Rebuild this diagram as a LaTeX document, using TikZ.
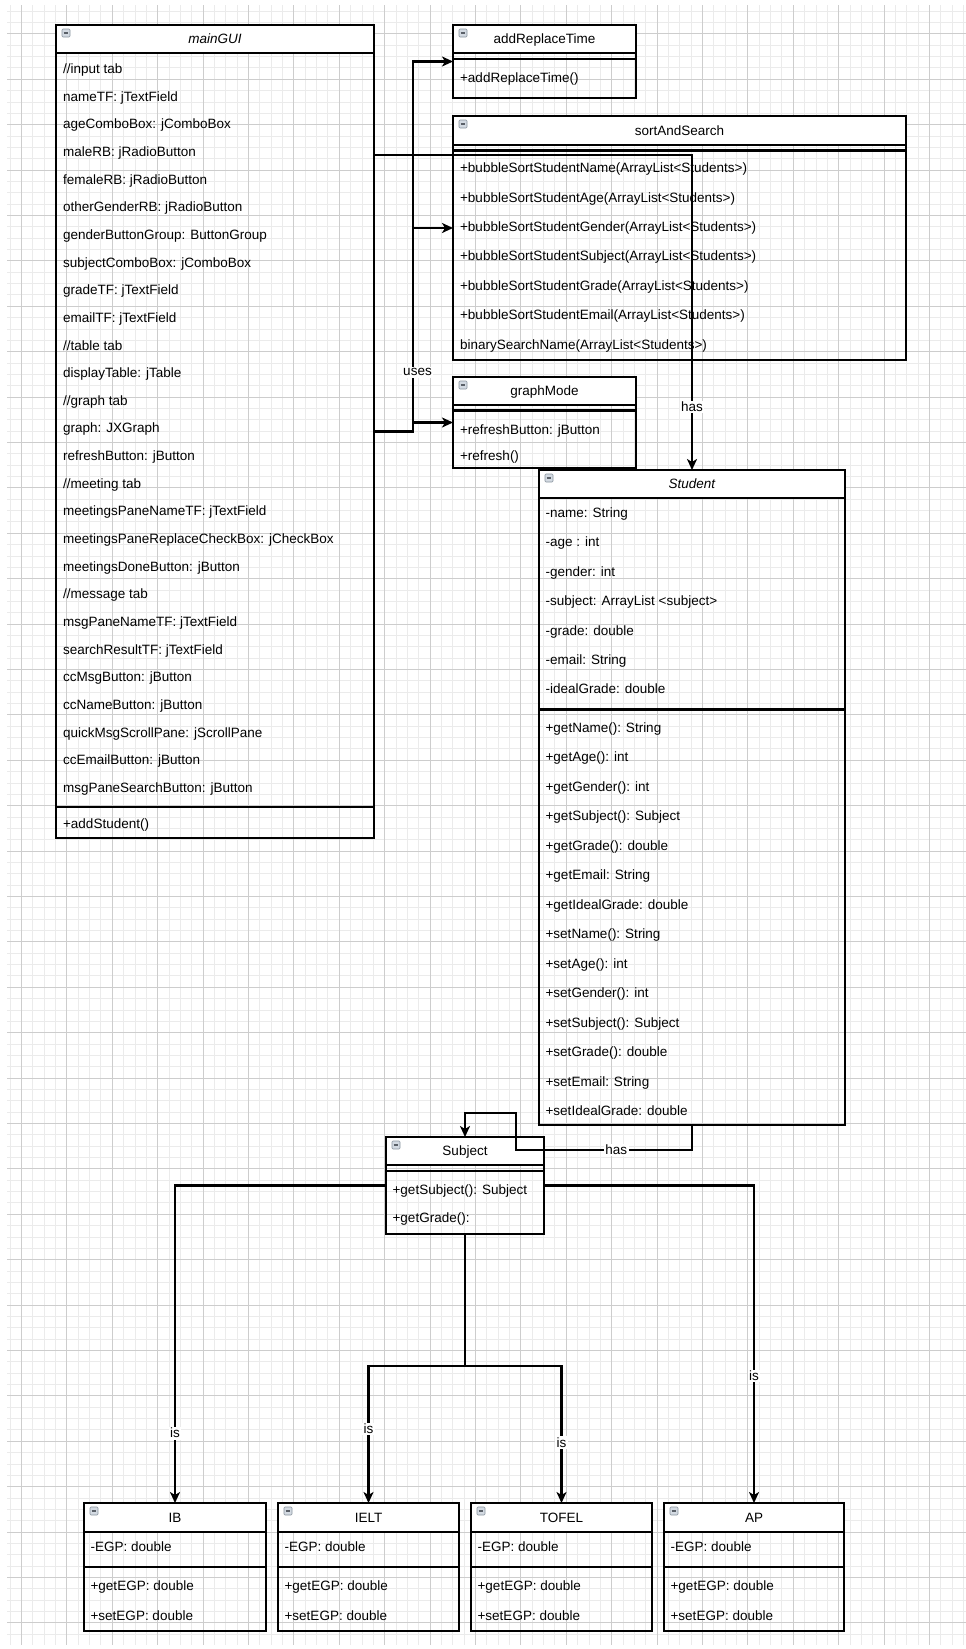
\documentclass[tikz,border=0pt]{standalone}
\usepackage{fontspec}
\setmainfont{Liberation Sans}
\usetikzlibrary{arrows.meta, positioning}
\definecolor{iconfill}{HTML}{D3DAE2}
\definecolor{iconline}{HTML}{8A949E}
\definecolor{iconmark}{HTML}{5A6068}
\definecolor{gridfaint}{HTML}{EBEBEB}
\definecolor{gridstrong}{HTML}{CDCDCD}
\tikzset{
    umldiagram/.style={>={Stealth[length=11pt, width=10pt, inset=3pt]}, line width=2.2pt, font=\fontsize{13.5}{16}\selectfont},
    classbox/.style={draw, anchor=north west, inner sep=0pt, outer sep=0pt},
    classhead/.style={draw, fill=white, anchor=north west, inner sep=0pt, outer sep=0pt, minimum height=28, text height=11.5pt, text depth=2.5pt},
    member/.style={anchor=base west, inner sep=0pt},
    % small collapse button in the corner of each class header
    collapse/.style={draw=iconline, fill=iconfill, line width=0.6pt, minimum size=8pt, inner sep=0pt, rounded corners=1pt,
        path picture={\draw[draw=iconmark, line width=1.2pt] ([xshift=-2.3pt]path picture bounding box.center) -- ([xshift=2.3pt]path picture bounding box.center);}},
    rel/.style={->},
    rellabel/.style={fill=white, inner sep=1.5pt},
    finegrid/.style={draw=gridfaint, line width=0.8pt, step=11.35pt},
    coarsegrid/.style={draw=gridstrong, line width=0.8pt, step=45.4pt},
}

\begin{document}
\begin{tikzpicture}[umldiagram, x=1pt, y=-1pt]
    \useasboundingbox (0,0) rectangle (966,1649);
    % background grid
    \begin{scope}
        \clip (7,5) rectangle (966,1644);
        \draw[finegrid, shift={(10.05,11.1)}] (-11.35,1650) grid (960,-11.35);
        \draw[coarsegrid, shift={(21.4,33.8)}] (-45.4,1650) grid (950,-45.4);
    \end{scope}

    % mainGUI
    \node[classbox, minimum width=318, minimum height=813] (mainGUI) at (56,25) {};
    \node[classhead, minimum width=318] (mainGUI-head) at (mainGUI.north west) {\textit{mainGUI}};
    \node[collapse] (mainGUI-icon) at ([xshift=10pt, yshift=-8pt]mainGUI.north west) {};
    \draw (mainGUI.west |- 0,807) -- (mainGUI.east |- 0,807);
    \foreach \member [count=\i from 0] in {{//input tab}, nameTF: jTextField, ageComboBox: jComboBox, maleRB: jRadioButton,
        femaleRB: jRadioButton, otherGenderRB: jRadioButton, genderButtonGroup: ButtonGroup, subjectComboBox: jComboBox,
        gradeTF: jTextField, emailTF: jTextField, {//table tab}, displayTable: jTable, {//graph tab}, graph: JXGraph,
        refreshButton: jButton, {//meeting tab}, meetingsPaneNameTF: jTextField, meetingsPaneReplaceCheckBox: jCheckBox,
        meetingsDoneButton: jButton, {//message tab}, msgPaneNameTF: jTextField, searchResultTF: jTextField,
        ccMsgButton: jButton, ccNameButton: jButton, quickMsgScrollPane: jScrollPane, ccEmailButton: jButton,
        msgPaneSearchButton: jButton}
        \node[member] (mainGUI-attr\i) at (62,{73.5+27.65*\i}) {\member};
    \node[member] (mainGUI-op0) at (62,828.5) {+addStudent()};

    % addReplaceTime
    \node[classbox, minimum width=183, minimum height=73] (addReplaceTime) at (453,25) {};
    \node[classhead, minimum width=183] (addReplaceTime-head) at (addReplaceTime.north west) {addReplaceTime};
    \node[collapse] (addReplaceTime-icon) at ([xshift=10pt, yshift=-8pt]addReplaceTime.north west) {};
    \draw (addReplaceTime.west |- 0,59) -- (addReplaceTime.east |- 0,59);
    \node[member] (addReplaceTime-op0) at (459,82) {+addReplaceTime()};

    % sortAndSearch
    \node[classbox, minimum width=453, minimum height=244] (sortAndSearch) at (453,116) {};
    \node[classhead, minimum width=453, minimum height=29] (sortAndSearch-head) at (sortAndSearch.north west) {sortAndSearch};
    \node[collapse] (sortAndSearch-icon) at ([xshift=10pt, yshift=-8pt]sortAndSearch.north west) {};
    \draw (sortAndSearch.west |- 0,150.5) -- (sortAndSearch.east |- 0,150.5);
    \foreach \member [count=\i from 0] in {+bubbleSortStudentName(ArrayList<Students>), +bubbleSortStudentAge(ArrayList<Students>),
        +bubbleSortStudentGender(ArrayList<Students>), +bubbleSortStudentSubject(ArrayList<Students>),
        +bubbleSortStudentGrade(ArrayList<Students>), +bubbleSortStudentEmail(ArrayList<Students>),
        binarySearchName(ArrayList<Students>)}
        \node[member] (sortAndSearch-op\i) at (459,{172.7+29.43*\i}) {\member};

    % graphMode
    \node[classbox, minimum width=183, minimum height=91] (graphMode) at (453,377) {};
    \node[classhead, minimum width=183] (graphMode-head) at (graphMode.north west) {graphMode};
    \node[collapse] (graphMode-icon) at ([xshift=10pt, yshift=-8pt]graphMode.north west) {};
    \draw (graphMode.west |- 0,410.5) -- (graphMode.east |- 0,410.5);
    \node[member] (graphMode-op0) at (459,434.5) {+refreshButton: jButton};
    \node[member] (graphMode-op1) at (459,460) {+refresh()};

    % Student
    \node[classbox, minimum width=306, minimum height=655] (Student) at (539,470) {};
    \node[classhead, minimum width=306] (Student-head) at (Student.north west) {\textit{Student}};
    \node[collapse] (Student-icon) at ([xshift=10pt, yshift=-8pt]Student.north west) {};
    \draw (Student.west |- 0,709.5) -- (Student.east |- 0,709.5);
    \foreach \member [count=\i from 0] in {-name: String, -age : int, -gender: int, -subject: ArrayList <subject>,
        -grade: double, -email: String, -idealGrade: double}
        \node[member] (Student-attr\i) at (544.5,{517.5+29.4*\i}) {\member};
    \foreach \member [count=\i from 0] in {+getName(): String, +getAge(): int, +getGender(): int, +getSubject(): Subject,
        +getGrade(): double, +getEmail: String, +getIdealGrade: double, +setName(): String, +setAge(): int,
        +setGender(): int, +setSubject(): Subject, +setGrade(): double, +setEmail: String, +setIdealGrade: double}
        \node[member] (Student-op\i) at (544.5,{732.3+29.5*\i}) {\member};

    % Subject
    \node[classbox, minimum width=158, minimum height=97] (Subject) at (386,1137) {};
    \node[classhead, minimum width=158] (Subject-head) at (Subject.north west) {Subject};
    \node[collapse] (Subject-icon) at ([xshift=10pt, yshift=-8pt]Subject.north west) {};
    \draw (Subject.west |- 0,1171) -- (Subject.east |- 0,1171);
    \node[member] (Subject-op0) at (391.5,1194) {+getSubject(): Subject};
    \node[member] (Subject-op1) at (391.5,1222.5) {+getGrade():};

    % exam types
    \node[classbox, minimum width=182, minimum height=128] (IB) at (84,1503) {};
    \node[classbox, minimum width=181, minimum height=128, right=12pt of IB] (IELT) {};
    \node[classbox, minimum width=181, minimum height=128, right=12pt of IELT] (TOFEL) {};
    \node[classbox, minimum width=180, minimum height=128, right=12pt of TOFEL] (AP) {};
    \foreach \cls/\boxw in {IB/182, IELT/181, TOFEL/181, AP/180} {
        \node[classhead, minimum width=\boxw, minimum height=29] (\cls-head) at (\cls.north west) {\cls};
        \node[collapse] (\cls-icon) at ([xshift=10pt, yshift=-8pt]\cls.north west) {};
        \draw (\cls.west |- 0,1567) -- (\cls.east |- 0,1567);
        \node[member, xshift=5.5pt] (\cls-attr0) at (\cls.west |- 0,1551.5) {-EGP: double};
        \node[member, xshift=5.5pt] (\cls-op0) at (\cls.west |- 0,1590.5) {+getEGP: double};
        \node[member, xshift=5.5pt] (\cls-op1) at (\cls.west |- 0,1620) {+setEGP: double};
    }

    % relations
    \coordinate[right=39pt of mainGUI.east] (usesbus);
    \draw[rel] (usesbus) |- (graphMode.west);
    \draw[rel] (usesbus) |- ([yshift=10pt]sortAndSearch.west);
    \draw[rel] (mainGUI.east) -- (usesbus) |- node[rellabel, pos=0.08, xshift=4.5pt] {uses} (addReplaceTime.west);
    \draw[rel] ([yshift=-130pt]mainGUI.north east) -| node[rellabel, pos=0.9] {has} (Student.north);

    \draw[rel] (Student.south) -- ++(0,25) -- node[rellabel, pos=0.43] {has} ++(-176,0) -- ++(0,-37) -| (Subject.north);

    \draw[rel] (Subject.west) -| node[rellabel, pos=0.89] {is} (IB.north);
    \draw[rel] (Subject.east) -| node[rellabel, pos=0.8] {is} (AP.north);
    \coordinate[below=132pt of Subject.south] (isfork);
    \draw[rel] (Subject.south) -- (isfork) -| node[rellabel, pos=0.73] {is} (IELT.north);
    \draw[rel] (isfork) -| node[rellabel, pos=0.78] {is} (TOFEL.north);
\end{tikzpicture}
\end{document}
